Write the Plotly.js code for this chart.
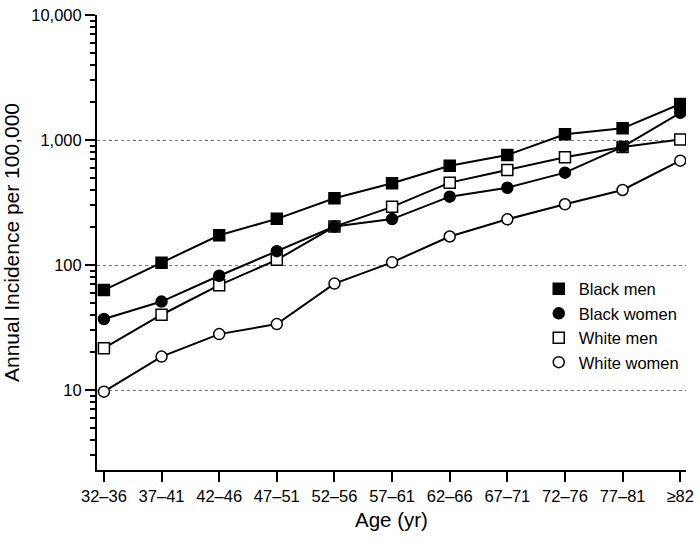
<!DOCTYPE html>
<html>
<head>
<meta charset="utf-8">
<script src="https://cdn.plot.ly/plotly-3.0.1.min.js"></script>
<style>html,body{margin:0;padding:0;background:#fff;}#chart{width:700px;height:544px;}</style>
</head>
<body>
<div id="chart"></div>
<script>
const ageGroups = ['32–36','37–41','42–46','47–51','52–56','57–61','62–66','67–71','72–76','77–81','≥82'];
const blackMen   = [63, 104, 173, 234, 342, 451, 623, 759, 1110, 1240, 1940];
const blackWomen = [37, 51, 82, 129, 203, 233, 352, 415, 548, 880, 1650];
const whiteMen   = [21.6, 40, 69, 110, 203, 292, 456, 575, 727, 880, 1010];
const whiteWomen = [9.7, 18.5, 28, 33.7, 71, 105, 169, 232, 306, 398, 683];
const yTickVals = [10, 100, 1000, 10000];
const yTickText = ['10', '100', '1,000', '10,000'];

// minor tick positions on the log axis: 2..9 times each decade
const yMinorVals = [];
[1, 10, 100, 1000].forEach(d => { for (let k = 2; k <= 9; k++) yMinorVals.push(k * d); });

const FONT = 'Liberation Sans, Arial, Helvetica, sans-serif';
const series = [
  {name: 'Black men',   y: blackMen,   symbol: 'square', fill: 'black', rank: 1},
  {name: 'Black women', y: blackWomen, symbol: 'circle', fill: 'black', rank: 2},
  {name: 'White men',   y: whiteMen,   symbol: 'square', fill: 'white', rank: 3},
  {name: 'White women', y: whiteWomen, symbol: 'circle', fill: 'white', rank: 4}
];
const traces = [];
series.forEach(s => traces.push({
  x: ageGroups, y: s.y, type: 'scatter', mode: 'lines',
  line: {color: 'black', width: 2}, showlegend: false, hoverinfo: 'skip'
}));
// marker draw order: white men before black women so the overlap shows dark
[0, 2, 3, 1].forEach(i => {
  const s = series[i];
  traces.push({
    x: ageGroups, y: s.y, type: 'scatter', mode: 'markers', name: s.name,
    legendrank: s.rank,
    marker: {symbol: s.symbol, size: 11, color: s.fill,
             line: {color: 'black', width: 1.5}}
  });
});
// invisible trace carrying the minor-tick axis
traces.push({x: [ageGroups[0]], y: [1], yaxis: 'y2', type: 'scatter', mode: 'markers',
             marker: {opacity: 0}, showlegend: false, hoverinfo: 'skip'});

const yRangeLog = [0.36, 4];
const layout = {
  width: 700, height: 544,
  margin: {l: 97, r: 14, t: 15, b: 74},
  paper_bgcolor: 'white', plot_bgcolor: 'white',
  font: {family: FONT, color: 'black', size: 16},
  showlegend: true,
  legend: {x: 0.75, y: 0.436, xanchor: 'left', yanchor: 'top',
           font: {family: FONT, size: 16.5, color: 'black'},
           traceorder: 'normal', bgcolor: 'rgba(0,0,0,0)'},
  xaxis: {
    type: 'category', range: [-0.12, 10.1],
    showline: true, linecolor: 'black', linewidth: 2,
    ticks: 'outside', ticklen: 10, tickwidth: 2, tickcolor: 'black',
    showgrid: false, zeroline: false,
    tickfont: {family: FONT, size: 16.5, color: 'black'},
    title: {text: 'Age (yr)', font: {family: FONT, size: 20.5, color: 'black'}, standoff: 9}
  },
  yaxis: {
    type: 'log', range: yRangeLog,
    tickmode: 'array', tickvals: yTickVals, ticktext: yTickText,
    showline: true, linecolor: 'black', linewidth: 2,
    ticks: 'outside', ticklen: 10, tickwidth: 2, tickcolor: 'black',
    showgrid: true, gridcolor: '#777', gridwidth: 1, griddash: 'dot',
    zeroline: false,
    tickfont: {family: FONT, size: 16.5, color: 'black'},
    title: {text: 'Annual Incidence per 100,000', font: {family: FONT, size: 21, color: 'black'}, standoff: 10}
  },
  yaxis2: {
    type: 'linear', range: yRangeLog, overlaying: 'y', side: 'left', anchor: 'x',
    tickmode: 'array', tickvals: yMinorVals.map(v => Math.log10(v)), ticktext: yMinorVals.map(() => ''),
    ticks: 'outside', ticklen: 6, tickwidth: 2, tickcolor: 'black',
    showgrid: false, showline: false, zeroline: false
  }
};
Plotly.newPlot('chart', traces, layout, {displayModeBar: false, staticPlot: true});
</script>
</body>
</html>
